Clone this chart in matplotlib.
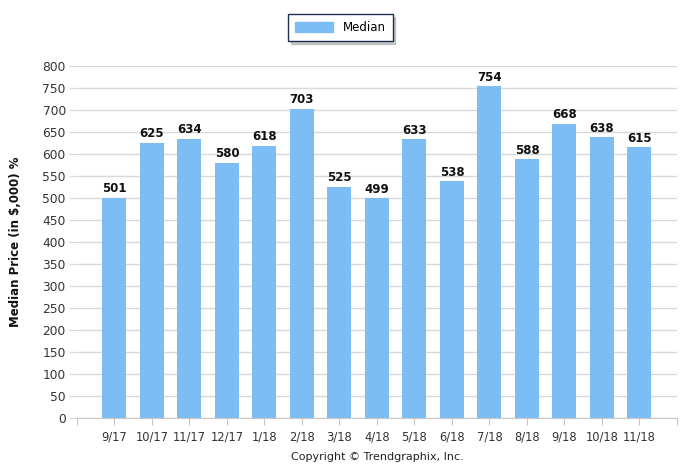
import matplotlib
matplotlib.use("Agg")
import matplotlib.pyplot as plt
from matplotlib.patches import Patch

months = ["9/17", "10/17", "11/17", "12/17", "1/18", "2/18", "3/18", "4/18",
          "5/18", "6/18", "7/18", "8/18", "9/18", "10/18", "11/18"]
median = [501, 625, 634, 580, 618, 703, 525, 499, 633, 538, 754, 588, 668, 638, 615]

bar_color = "#7dbdf5"
grid_color = "#d9d9d9"

fig = plt.figure(figsize=(6.99, 4.69), dpi=100)
ax = fig.add_axes([0.110, 0.1087, 0.8585, 0.7506])

x = list(range(len(months)))
bars = ax.bar(x, median, width=0.64, color=bar_color, zorder=2)

# value labels on top of bars
for xi, v in zip(x, median):
    ax.text(xi, v + 6, str(v), ha="center", va="bottom", fontsize=8.5,
            fontweight="bold", color="#111111")

ax.set_xlim(-1, len(months))
ax.set_ylim(0, 800)
ax.set_yticks(range(0, 801, 50))
ax.set_xticks(range(-1, len(months) + 1))
ax.set_xticklabels([""] + months + [""])

ax.yaxis.grid(True, color=grid_color, linewidth=1, zorder=0)
ax.set_axisbelow(True)
for s in ["top", "right", "left"]:
    ax.spines[s].set_visible(False)
ax.spines["bottom"].set_color("#c8c8c8")
ax.tick_params(axis="y", length=6, color=grid_color, labelsize=8.8,
               labelcolor="#333333", pad=2)
ax.tick_params(axis="x", length=5, color="#c8c8c8", labelsize=8.3,
               labelcolor="#333333", pad=4)

fig.text(0.022, 0.485, "Median Price (in $,000) %", rotation=90, ha="center",
         va="center", fontsize=8.5, fontweight="bold", color="#111111")

fig.text(0.54, 0.025, "Copyright \u00a9 Trendgraphix, Inc.", ha="center",
         va="center", fontsize=8, color="#222222")

handle = Patch(facecolor=bar_color, edgecolor=bar_color, label="Median")
leg = fig.legend(handles=[handle], loc="center", bbox_to_anchor=(0.487, 0.941),
                 fontsize=8.5, frameon=True, fancybox=False,
                 shadow={"color": "0.6", "alpha": 0.5, "ox": 2, "oy": -2},
                 handlelength=3.2, handleheight=0.9, borderpad=0.6)
leg.get_frame().set_edgecolor("#1f2f4f")
leg.get_frame().set_linewidth(1)

fig.savefig("out.png", dpi=100)
